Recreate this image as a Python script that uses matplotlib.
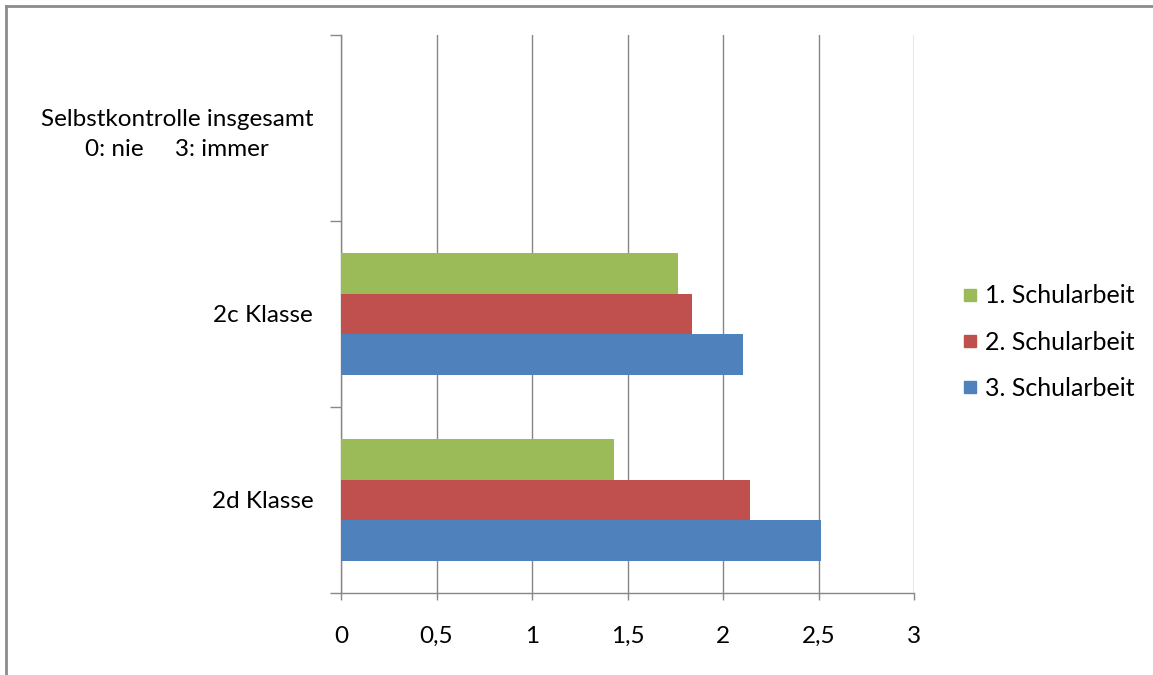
import numpy as np
import matplotlib
matplotlib.use("Agg")
import matplotlib.pyplot as plt
from matplotlib.lines import Line2D

plt.rcParams['font.family'] = ['Lato', 'DejaVu Sans']

# data
categories = ["2d Klasse", "2c Klasse", "Selbstkontrolle insgesamt\n0: nie     3: immer"]
series_names = ["1. Schularbeit", "2. Schularbeit", "3. Schularbeit"]
sa1 = [1.43, 1.765, np.nan]
sa2 = [2.14, 1.84, np.nan]
sa3 = [2.515, 2.105, np.nan]
xticks = [0, 0.5, 1, 1.5, 2, 2.5, 3]
xtick_labels = ["0", "0,5", "1", "1,5", "2", "2,5", "3"]

colors = ["#9BBB59", "#C0504D", "#4F81BD"]
grid_col = "#878787"
fs = 17.5

fig = plt.figure(figsize=(11.53, 6.75), dpi=100)
ax = fig.add_axes([341/1153, 1-593/675, (914-341)/1153, (593-35)/675])

y = np.arange(len(categories))
h = 0.22
offsets = [h, 0, -h]
for vals, off, c, name in zip([sa1, sa2, sa3], offsets, colors, series_names):
    ax.barh(y + off, vals, height=h, color=c, label=name, zorder=3)

ax.set_xlim(0, 3)
ax.set_ylim(-0.5, 2.5)
ax.set_xticks(xticks)
ax.set_xticklabels(xtick_labels, fontsize=fs)
ax.set_yticks(y)
ax.set_yticklabels(categories, fontsize=fs, linespacing=1.5)
ax.set_yticks(np.arange(-0.5, 2.6, 1), minor=True)
ax.tick_params(axis='y', which='major', length=0, pad=20)
ax.tick_params(axis='y', which='minor', length=8, color=grid_col, width=1)
ax.tick_params(axis='x', length=5, color=grid_col, width=1, pad=19)
for lbl in ax.get_yticklabels():
    lbl.set_horizontalalignment('right')
    lbl.set_multialignment('center')
ax.xaxis.grid(True, color=grid_col, linewidth=1, zorder=0)
for s in ['top', 'right']:
    ax.spines[s].set_visible(False)
for s in ['left', 'bottom']:
    ax.spines[s].set_color(grid_col)
    ax.spines[s].set_linewidth(1)

handles = [Line2D([], [], marker='s', linestyle='none', markersize=8.5,
                  markerfacecolor=c, markeredgecolor=c) for c in colors]
fig.legend(handles, series_names, loc='center left', bbox_to_anchor=(950/1153, 1-342/675),
           frameon=False, fontsize=18, handlelength=0.6, handletextpad=0.3,
           labelspacing=0.93, borderpad=0)

# chart border (left and top)
fig.add_artist(Line2D([6/1153, 6/1153], [0, 1-6/675], color="#8c8c8c", linewidth=2, transform=fig.transFigure))
fig.add_artist(Line2D([6/1153, 1], [1-6/675, 1-6/675], color="#8c8c8c", linewidth=2, transform=fig.transFigure))

fig.savefig("out.png", dpi=100)
